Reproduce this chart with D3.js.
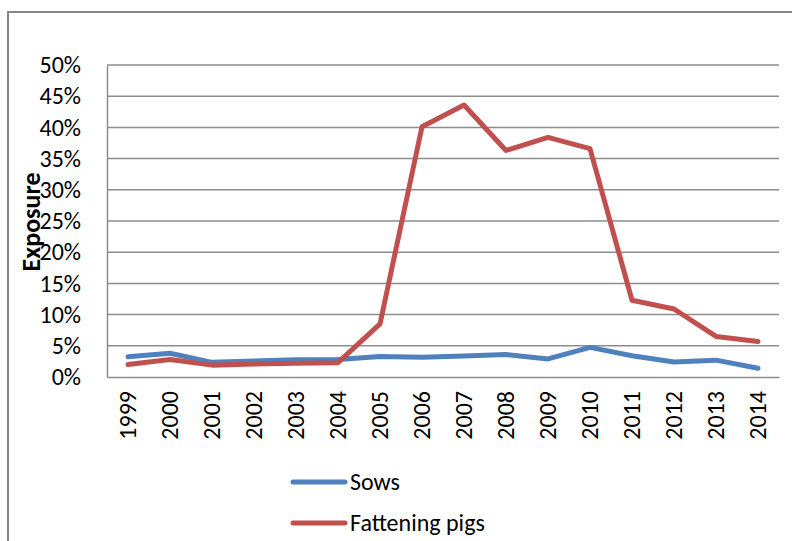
<!DOCTYPE html>
<html><head><meta charset="utf-8">
<script src="https://cdn.jsdelivr.net/npm/d3@7"></script>
<style>body{margin:0;background:#fff}svg{display:block}</style>
</head><body>
<svg id="c" width="792" height="541"></svg>
<script>
const years = ["1999","2000","2001","2002","2003","2004","2005","2006","2007","2008","2009","2010","2011","2012","2013","2014"];
const sows = [3.25,3.8,2.35,2.55,2.75,2.8,3.3,3.15,3.35,3.6,2.9,4.75,3.4,2.4,2.7,1.4];
const fattening = [2.0,2.8,1.9,2.1,2.2,2.3,8.5,40.1,43.6,36.3,38.4,36.6,12.3,10.9,6.5,5.7];
const yTicks = [0,5,10,15,20,25,30,35,40,45,50];
const seriesNames = ["Sows","Fattening pigs"];
const colors = ["#4F81BD","#C0504D"];

const font = "Carlito, Calibri, 'Open Sans', sans-serif";
const svg = d3.select("#c");
const L = 107, R = 779, T = 65, B = 377;

// outer border
svg.append("rect").attr("x",8).attr("y",12).attr("width",800).attr("height",600)
  .attr("fill","none").attr("stroke","#868686").attr("stroke-width",2);

const x = d3.scaleBand().domain(years).range([L,R]).paddingInner(0).paddingOuter(0);
const y = d3.scaleLinear().domain([0,50]).range([B,T]);

// gridlines
svg.append("g").selectAll("line").data(yTicks.filter(d=>d>0)).join("line")
  .attr("x1",L).attr("x2",R).attr("y1",d=>y(d)).attr("y2",d=>y(d))
  .attr("stroke","#8c8c8c").attr("stroke-width",1.5);

// y axis
const ya = svg.append("g").attr("transform",`translate(${L},0)`)
  .call(d3.axisLeft(y).tickValues(yTicks).tickFormat(d=>d+"%").tickSize(0).tickPadding(26));
ya.select(".domain").attr("stroke","#8c8c8c").attr("stroke-width",1.5);
ya.selectAll("text").attr("font-family",font).attr("font-size",24).attr("fill","#000");

// x axis
const xa = svg.append("g").attr("transform",`translate(0,${B})`)
  .call(d3.axisBottom(x).tickSize(0).tickPadding(0));
xa.select(".domain").attr("stroke","#8c8c8c").attr("stroke-width",1.5);
xa.selectAll("text").attr("font-family",font).attr("font-size",24).attr("fill","#000")
  .attr("transform","rotate(-90)").attr("text-anchor","end")
  .attr("x",-14).attr("y",0).attr("dy","0.35em");

// y title
svg.append("text").attr("transform","translate(31,222) rotate(-90)")
  .attr("text-anchor","middle").attr("dy","0.35em")
  .attr("font-family",font).attr("font-size",26).attr("font-weight","bold").text("Exposure");

// lines
const line = d3.line().x((d,i)=>x(years[i])+x.bandwidth()/2).y(d=>y(d));
[sows,fattening].forEach((s,k)=>{
  svg.append("path").datum(s).attr("d",line).attr("fill","none")
    .attr("stroke",colors[k]).attr("stroke-width",5).attr("stroke-linejoin","round").attr("stroke-linecap","round");
});

// legend
const lg = svg.append("g");
seriesNames.forEach((n,k)=>{
  const yy = 482 + k*41;
  lg.append("line").attr("x1",293).attr("x2",345).attr("y1",yy).attr("y2",yy)
    .attr("stroke",colors[k]).attr("stroke-width",5).attr("stroke-linecap","round");
  lg.append("text").attr("x",350).attr("y",yy).attr("dy","0.35em")
    .attr("font-family",font).attr("font-size",24).attr("fill","#000").text(n);
});
</script>
</body></html>
